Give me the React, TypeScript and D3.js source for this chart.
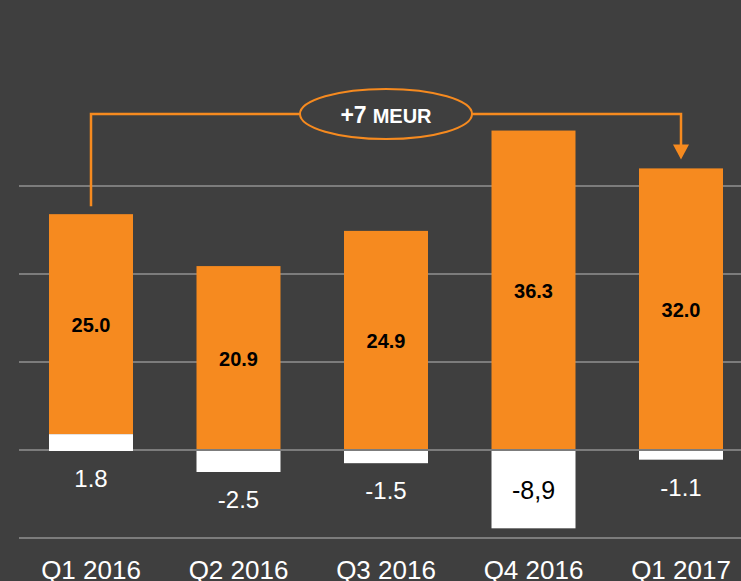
import React, { useEffect } from "react";
import * as d3 from "d3";

const categories = ["Q1 2016", "Q2 2016", "Q3 2016", "Q4 2016", "Q1 2017"];
const mainValues = [25.0, 20.9, 24.9, 36.3, 32.0];
const adjustValues = [1.8, -2.5, -1.5, -8.9, -1.1];
const adjustLabels = ["1.8", "-2.5", "-1.5", "-8,9", "-1.1"];
const gridTicks = [-10, 0, 10, 20, 30];
const unitLabel = "MEUR";

const W = 741;
const H = 581;
const BG = "#3f3f3f";
const ORANGE = "#f68a1f";
const GRID = "#7c7c7c";
const FONT = "'Liberation Sans', Arial, Helvetica, sans-serif";

export default function App() {
  useEffect(() => {
    document.body.style.margin = "0";
    document.body.style.background = BG;
  }, []);

  const x = d3.scalePoint<string>().domain(categories).range([91, 681]);
  const y = d3.scaleLinear().domain([-10, 30]).range([538, 186]);
  const barW = 84;
  const y0 = y(0);

  const first = 0;
  const last = categories.length - 1;
  const startTop = y(mainValues[first] + Math.max(0, adjustValues[first]));
  const endTop = y(mainValues[last] + Math.max(0, adjustValues[last]));
  const lineY = 114;
  const x1 = x(categories[first])!;
  const x2 = x(categories[last])!;
  const midX = (x1 + x2) / 2;
  const delta = Math.round(mainValues[last] - mainValues[first]);
  const arrowTip = endTop - 9;
  const arrowBase = arrowTip - 15;

  return (
    <svg width={W} height={H} style={{ display: "block", background: BG }} fontFamily={FONT}>
      <rect x={0} y={0} width={W} height={H} fill={BG} />
      {gridTicks.map((t) => (
        <line key={t} x1={19} x2={W} y1={y(t)} y2={y(t)} stroke={GRID} strokeWidth={2} />
      ))}
      {categories.map((c, i) => {
        const cx = x(c)!;
        const adj = adjustValues[i];
        const base = Math.max(0, adj);
        const top = y(mainValues[i] + base);
        const bot = y(base);
        return (
          <g key={c}>
            <rect x={cx - barW / 2} y={top} width={barW} height={bot - top} fill={ORANGE} />
            <text
              x={cx}
              y={(top + bot) / 2 + 8}
              textAnchor="middle"
              fontSize={20}
              fontWeight="bold"
              fill="#000"
            >
              {mainValues[i].toFixed(1)}
            </text>
          </g>
        );
      })}
      <line x1={19} x2={W} y1={y0} y2={y0} stroke={GRID} strokeWidth={2} />
      {categories.map((c, i) => {
        const cx = x(c)!;
        const adj = adjustValues[i];
        const isPos = adj >= 0;
        const ry0 = isPos ? y(adj) : y0 + 1;
        const ry1 = isPos ? y0 + 1 : y(adj);
        const h = ry1 - ry0;
        const inside = h > 40;
        const labelY = inside ? (ry0 + ry1) / 2 + 9 : Math.max(y0, ry1) + 36;
        return (
          <g key={c + "-adj"}>
            <rect x={cx - barW / 2} y={ry0} width={barW} height={h} fill="#fff" />
            <text
              x={cx}
              y={labelY}
              textAnchor="middle"
              fontSize={inside ? 25 : 24}
              fill={inside ? "#000" : "#fff"}
            >
              {adjustLabels[i]}
            </text>
            <text x={cx} y={579} textAnchor="middle" fontSize={26} fill="#fff">
              {c}
            </text>
          </g>
        );
      })}
      <path
        d={`M${x1},${startTop - 8} V${lineY} H${x2} V${arrowBase + 1}`}
        fill="none"
        stroke={ORANGE}
        strokeWidth={2.5}
      />
      <path
        d={`M${x2 - 8},${arrowBase} L${x2 + 8},${arrowBase} L${x2},${arrowTip} Z`}
        fill={ORANGE}
      />
      <ellipse cx={midX} cy={lineY} rx={86} ry={25} fill={BG} stroke={ORANGE} strokeWidth={2} />
      <text x={midX} y={123} textAnchor="middle" fill="#fff" fontWeight="bold">
        <tspan fontSize={23}>{`+${delta}`}</tspan>
        <tspan fontSize={20} dx={6}>{unitLabel}</tspan>
      </text>
    </svg>
  );
}
